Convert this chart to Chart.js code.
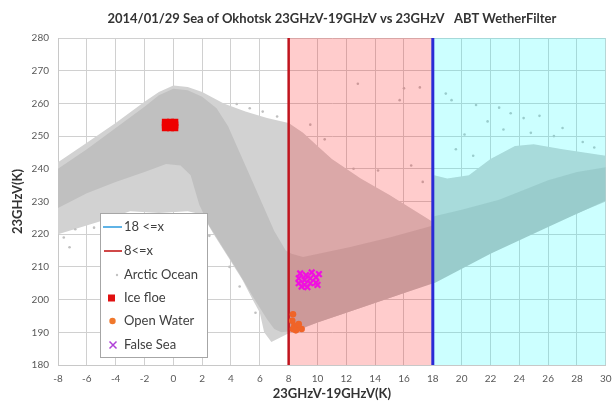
<!DOCTYPE html>
<html><head><meta charset="utf-8">
<script src="https://cdn.jsdelivr.net/npm/chart.js@4/dist/chart.umd.min.js"></script>
<style>html,body{margin:0;padding:0;background:#fff}</style>
</head><body>
<canvas id="c" width="612" height="406" style="width:612px;height:406px;display:block"></canvas>
<script>
// ---- data ----
const legendLabels = ['18 <=x', '8<=x', 'Arctic Ocean', 'Ice floe', 'Open Water', 'False Sea'];
const xTickValues = [-8,-6,-4,-2,0,2,4,6,8,10,12,14,16,18,20,22,24,26,28,30];
const yTickValues = [180,190,200,210,220,230,240,250,260,270,280];
const thresholdLow = 8;   // 8<=x
const thresholdHigh = 18; // 18 <=x

// Arctic Ocean cloud: outer (sparse) outline vertices
const arcticOuter = [[-8,242],[-6,248],[-4,254],[-2,260.5],[-1,263.5],[0,265.5],[1,265],[2,263.5],[3.5,260],[5,257.5],[6.5,255.5],[8,254],[9,251],[10,247],[11,243],[13,237],[15,232],[17.9,224],[18.1,238],[19,237],[20.5,238],[22,243],[23.7,247],[25,247.5],[27,246],[30,244],[30,230],[27,224.5],[24,218.5],[21,212],[18.2,205.5],[15,200.5],[12,196],[10,193],[8.5,190.3],[7.9,189.5],[6.8,187],[6.3,190],[6,196],[5.5,200],[4.8,206],[3.8,213],[2.8,220],[2,226],[1,227],[-1,226.5],[-3,227],[-5,224],[-8,220]];
// Arctic Ocean cloud: dense core outline vertices
const arcticCore = [[-8,240],[-6,246],[-4,252.5],[-2,259],[-1,262.5],[0,264.5],[1,264],[2,262],[3,258.5],[3.8,253],[4.5,246],[5.3,238],[6.2,229],[7,221],[7.8,215],[8.2,214],[9,213],[12.2,216],[15,219],[17.9,222.5],[18.1,225.5],[20,227.5],[22.6,230.5],[26,236.5],[28,239],[30,240.5],[30,230.3],[26,222.2],[22,214],[18.2,205.2],[15,200.5],[12,196],[10,193],[8.4,190.5],[7.5,190],[7,191],[6.5,194],[5.5,201],[4.5,208.5],[3.5,215.5],[2.5,222.5],[1.8,229],[1.2,238],[0.5,241],[-0.5,241.5],[-2,239],[-4,236],[-6,232.5],[-8,228]];
// Arctic Ocean stray points outside the cloud
const arcticStray = [[12.8,266],[16,264.6],[17.1,264.9],[15.7,261],[19.3,261],[18.9,263],[21,259.5],[22.6,258.7],[23.4,257],[24.3,255.5],[25.4,256.2],[21.8,254.5],[27,252.5],[20.2,250.5],[26.4,250],[28.4,248.2],[22.9,252],[24.8,251],[19.6,246],[20.8,244],[29.2,246.5],[16.5,241],[14.2,239.5],[17.3,236],[12.5,240],[10.5,249],[9.5,253.5],[7.2,256],[6.2,257.5],[5.3,258.5],[4.4,259.8],[-7.6,219],[-6.8,221.5],[-5.5,222],[-4.2,224.5],[-3.3,225.5],[-1.8,224.8],[-0.6,225],[0.8,224],[2.5,219.5],[3.9,210],[4.6,204],[5.7,196],[-7.2,216]];
const iceFloe = [[-0.55,252.6],[-0.2,252.6],[0.1,252.6],[-0.55,253.4],[-0.2,253.4],[0.1,253.4],[-0.55,254.2],[-0.2,254.2],[0.1,254.2]];
const openWater = [[8.3,195.5],[8.25,193.5],[8.4,192],[8.6,191.2],[8.9,191],[8.5,190.6],[8.3,191],[8.7,192.5]];
const falseSea = [[8.7,205],[8.7,206.5],[8.8,208],[9.1,204.5],[9.1,206],[9.2,207.5],[9.5,205],[9.5,206.5],[9.6,208.3],[9.9,205.2],[9.9,206.8],[10.1,207.8],[9.3,203.8],[8.9,204],[10,204.5]];

const pts = a => a.map(([x, y]) => ({x, y}));
const yMin = yTickValues[0], yMax = yTickValues[yTickValues.length - 1];
const xMax = xTickValues[xTickValues.length - 1];

const FONT = 'Lato, "Open Sans", sans-serif';

const legendPlugin = {
  id: 'boxLegend',
  afterDraw(chart) {
    const ctx = chart.ctx;
    ctx.save();
    const L = 100.5, T = 213.5, W = 107, H = 144;
    ctx.fillStyle = '#ffffff';
    ctx.fillRect(L, T, W, H);
    ctx.strokeStyle = '#a6a6a6';
    ctx.lineWidth = 1;
    ctx.strokeRect(L, T, W, H);
    const rows = [227, 251, 275, 298, 321, 345];
    ctx.lineWidth = 2;
    ctx.strokeStyle = '#5fb3e6';
    ctx.beginPath(); ctx.moveTo(103, rows[0]); ctx.lineTo(122, rows[0]); ctx.stroke();
    ctx.strokeStyle = '#d04848';
    ctx.beginPath(); ctx.moveTo(104, rows[1]); ctx.lineTo(122, rows[1]); ctx.stroke();
    ctx.fillStyle = '#c3c3c3';
    ctx.beginPath(); ctx.arc(117, rows[2], 1.2, 0, Math.PI * 2); ctx.fill();
    ctx.fillStyle = '#e01010';
    ctx.fillRect(108, rows[3] - 3.5, 7, 7);
    ctx.fillStyle = '#f0782c';
    ctx.beginPath(); ctx.arc(112.5, rows[4], 3.2, 0, Math.PI * 2); ctx.fill();
    ctx.strokeStyle = '#b040d8';
    ctx.lineWidth = 1.5;
    ctx.beginPath();
    ctx.moveTo(109.5, rows[5] - 3.5); ctx.lineTo(116.5, rows[5] + 3.5);
    ctx.moveTo(116.5, rows[5] - 3.5); ctx.lineTo(109.5, rows[5] + 3.5);
    ctx.stroke();
    ctx.fillStyle = '#404040';
    ctx.font = '13px ' + FONT;
    ctx.textBaseline = 'middle';
    ctx.textAlign = 'left';
    legendLabels.forEach((t, i) => ctx.fillText(t, 124, rows[i]));
    ctx.restore();
  }
};

const poly = (label, data, color, order) => ({
  label, data: pts(data), showLine: true, fill: 'shape', backgroundColor: color,
  borderColor: 'rgba(0,0,0,0)', borderWidth: 0, pointRadius: 0, tension: 0, order
});

new Chart(document.getElementById('c'), {
  type: 'scatter',
  data: {
    datasets: [
      {label: 'False Sea', data: pts(falseSea), pointStyle: 'crossRot', pointRadius: 4, borderColor: '#f010e0', borderWidth: 2.2, order: 1},
      {label: 'Open Water', data: pts(openWater), pointStyle: 'circle', pointRadius: 3.3, backgroundColor: '#f06428', borderColor: '#f06428', borderWidth: 0, order: 2},
      {label: 'Ice floe', data: pts(iceFloe), pointStyle: 'rect', pointRadius: 5, backgroundColor: '#ee0000', borderColor: '#ee0000', borderWidth: 0, order: 3},
      {label: '18 <=x', data: pts([[thresholdHigh, yMin], [thresholdHigh, yMax]]), showLine: true, borderColor: '#2a2ad6', borderWidth: 3, pointRadius: 0, order: 4},
      {label: '8<=x', data: pts([[thresholdLow, yMin], [thresholdLow, yMax]]), showLine: true, borderColor: '#c0141e', borderWidth: 2.5, pointRadius: 0, order: 5},
      poly('shade8', [[thresholdLow, yMin], [thresholdHigh, yMin], [thresholdHigh, yMax], [thresholdLow, yMax]], 'rgba(255,0,0,0.2)', 6),
      poly('shade18', [[thresholdHigh, yMin], [xMax, yMin], [xMax, yMax], [thresholdHigh, yMax]], 'rgba(0,255,255,0.2)', 7),
      {label: 'Arctic Ocean', data: pts(arcticStray), pointStyle: 'circle', pointRadius: 1.3, backgroundColor: '#c0c0c0', borderWidth: 0, order: 8},
      poly('Arctic Ocean core', arcticCore, '#c0c0c0', 9),
      poly('Arctic Ocean edge', arcticOuter, '#d2d2d2', 10)
    ]
  },
  options: {
    responsive: false,
    animation: false,
    devicePixelRatio: 1,
    events: [],
    layout: {padding: {left: 0, right: 6, top: 0, bottom: 0}},
    plugins: {
      legend: {display: false},
      tooltip: {enabled: false},
      filler: {drawTime: 'beforeDatasetDraw'},
      title: {
        display: true, fullSize: false,
        text: '2014/01/29 Sea of Okhotsk 23GHzV-19GHzV vs 23GHzV   ABT WetherFilter',
        color: '#333333', font: {family: FONT, size: 13, weight: 'bold', lineHeight: 1.2},
        padding: {top: 11, bottom: 11.4}
      }
    },
    scales: {
      x: {
        type: 'linear', min: xTickValues[0], max: xMax,
        afterBuildTicks: s => { s.ticks = xTickValues.map(v => ({value: v})); },
        afterFit: s => { s.height = 41; s.paddingLeft = 0; s.paddingRight = 0; },
        ticks: {color: '#595959', font: {family: FONT, size: 10}, padding: 8, maxRotation: 0, autoSkip: false},
        grid: {color: '#d0d0d0', drawTicks: false},
        border: {color: '#c8c8c8'},
        title: {display: true, text: '23GHzV-19GHzV(K)', color: '#333333', font: {family: FONT, size: 13, weight: 'bold', lineHeight: 1.2}, padding: {top: 2, bottom: 4}}
      },
      y: {
        type: 'linear', min: yMin, max: yMax,
        afterBuildTicks: s => { s.ticks = yTickValues.map(v => ({value: v})); },
        afterFit: s => { s.width = 58; s.paddingTop = 0; s.paddingBottom = 0; },
        ticks: {color: '#595959', font: {family: FONT, size: 10}, padding: 9},
        grid: {color: '#d0d0d0', drawTicks: false},
        border: {color: '#c8c8c8'},
        title: {display: true, text: '23GHzV(K)', color: '#333333', font: {family: FONT, size: 13, weight: 'bold', lineHeight: 1.2}, padding: {top: 10, bottom: 2}}
      }
    }
  },
  plugins: [legendPlugin]
});
</script>
</body></html>
